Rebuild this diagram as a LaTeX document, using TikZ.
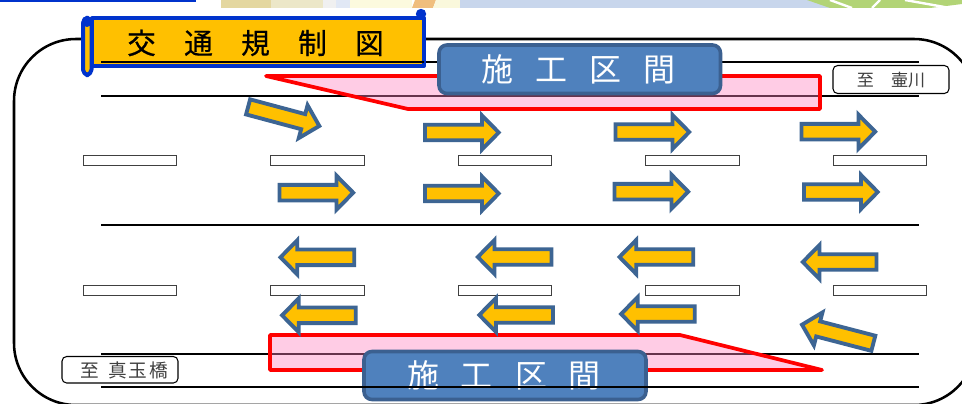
\documentclass[tikz,border=0pt]{standalone}
\usepackage{fontspec}
\setmainfont{Noto Sans CJK JP}
\newlength{\pxu}\setlength{\pxu}{0.75pt}
\definecolor{arrowfill}{HTML}{FFC000}
\definecolor{arrowedge}{HTML}{3D6593}
\definecolor{bannerfill}{HTML}{4F81BD}
\definecolor{banneredge}{HTML}{3B6090}
\definecolor{scrollblue}{HTML}{0033CC}
\definecolor{zonered}{HTML}{FF0000}
\definecolor{zonepink}{HTML}{FF80C0}
\tikzset{
  x=0.75pt,y=-0.75pt,
  roadline/.style={line width=1.5pt,black},
  lanedash/.style={draw=black!75,line width=0.75pt,fill=white},
  zonefill/.style={draw=none,fill=zonepink,fill opacity=0.4},
  zoneedge/.style={draw=zonered,line width=2.8pt,line join=round},
  flowarrow/.style={draw=arrowedge,fill=arrowfill,line width=2.9pt,miter limit=10},
  banner/.style={draw=banneredge,fill=bannerfill,line width=2.7pt,rounded corners=6pt},
  bannertext/.style={text=white,font=\fontsize{24}{24}\selectfont,inner sep=0pt,anchor=center},
  titletext/.style={text=black,font=\fontsize{21.5}{22}\selectfont\addfontfeature{FakeBold=0.5},inner sep=0pt,anchor=center},
  signbox/.style={draw=black,line width=0.8pt,fill=white,rounded corners=3.5pt,inner sep=0pt},
  signtext/.style={text=black!75,inner sep=0pt,anchor=center},
  scrolledge/.style={draw=scrollblue,line width=3pt,line join=round},
}
% tip x, tip y, canvas angle
\newcommand{\flowarw}[3]{%
  \begin{scope}[shift={(#1,#2)},rotate=#3]
    \draw[flowarrow] (-2.8,0) -- (-19.5,-17) -- (-19.5,-7.8) -- (-76.5,-7.8) -- (-76.5,7.8) -- (-19.5,7.8) -- (-19.5,17) -- cycle;
  \end{scope}}
\begin{document}
\begin{tikzpicture}
\useasboundingbox (0,0) rectangle (962,403);
\clip (0,0) rectangle (962,403);
\fill[white] (0,0) rectangle (962,403);
% map remnant along the top
\fill[scrollblue] (0,0) rectangle (196,2.2);
\fill[color={rgb,255:red,228;green,215;blue,160}] (221,0) rectangle (271,8);
\fill[color={rgb,255:red,236;green,231;blue,200}] (271,0) rectangle (323,8);
\fill[color={rgb,255:red,240;green,240;blue,240}] (323,0) rectangle (336,8);
\fill[color={rgb,255:red,225;green,232;blue,245}] (336,0) rectangle (350,8);
\fill[color={rgb,255:red,252;green,250;blue,222}] (350,0) rectangle (412,8);
\fill[color={rgb,255:red,240;green,190;blue,125}] (412,8) -- (415,0) -- (436,0) -- (433,8) -- cycle;
\fill[color={rgb,255:red,250;green,248;blue,220}] (433,8) -- (436,0) -- (462,0) -- (460,8) -- cycle;
\fill[color={rgb,255:red,200;green,214;blue,236}] (460,0) rectangle (830,8);
\fill[color={rgb,255:red,178;green,212;blue,118}] (807,0) -- (962,0) -- (962,4) -- (930,8) -- (830,8) -- cycle;
\draw[white,line width=1.8pt] (830,0) -- (852,8);
\draw[white,line width=1.8pt] (880,0) -- (872,8);
\draw[white,line width=1.8pt] (905,0) -- (950,8);
% outer frame
\draw[black,line width=1.9pt,rounded corners=46.5pt] (14,39) rectangle (976,405);
% road edges
\coordinate (r1a) at (101,62.5); \coordinate (r1b) at (919,62.5);
\coordinate (r2a) at (101,96);   \coordinate (r2b) at (919,96);
\coordinate (r3a) at (101,225);  \coordinate (r3b) at (919,225);
\coordinate (r4a) at (101,354);  \coordinate (r4b) at (919,354);
\coordinate (r5a) at (101,387);  \coordinate (r5b) at (919,387);
\draw[roadline] (r2a) -- (r2b);
\draw[roadline] (r3a) -- (r3b);
\draw[roadline] (r4a) -- (r4b);
% lane dashes
\foreach \lx in {83,270.5,458,645.5,833}{
  \draw[lanedash] (\lx,155) rectangle ++(93.5,10);
  \draw[lanedash] (\lx,285) rectangle ++(93.5,10);
}
% work zones
\path[zonefill] (266,76) -- (820,76) -- (820,109) -- (408,109) -- cycle;
\draw[zoneedge] (266,76) -- (820,76) -- (820,109) -- (408,109) -- cycle;
\path[zonefill] (270,335) -- (680,335) -- (822,370) -- (270,370) -- cycle;
\draw[zoneedge] (270,335) -- (680,335) -- (822,370) -- (270,370) -- cycle;
% upper road line and title scroll
\draw[roadline] (r1a) -- (r1b);
\draw[scrolledge,fill=arrowfill] (92,18.5) -- (424,18.5) -- (424,66) -- (92,66) -- cycle;
\fill[scrollblue] (421,14) circle (5.2);
\draw[scrolledge,fill=arrowfill,rounded corners=4pt] (83,18) rectangle (91.5,75);
\fill[scrollblue] (87,21.5) circle (5.5);
\draw[roadline] (101,62.5) -- (424,62.5);
\node[titletext] (title) at (255.5,43) {\makebox[57\pxu]{交}\makebox[57\pxu]{通}\makebox[57\pxu]{規}\makebox[57\pxu]{制}\makebox[57\pxu]{図}};
% banners
\draw[banner] (439,45) rectangle (720.5,93.5);
\node[bannertext] (upperzone) at (578.5,69) {\makebox[54\pxu]{施}\makebox[54\pxu]{工}\makebox[54\pxu]{区}\makebox[54\pxu]{間}};
\draw[banner] (364,351.5) rectangle (646,399.5);
\node[bannertext] (lowerzone) at (504,375) {\makebox[54\pxu]{施}\makebox[54\pxu]{工}\makebox[54\pxu]{区}\makebox[54\pxu]{間}};
\draw[roadline] (r5a) -- (r5b);
% direction signs
\draw[signbox] (833,65.5) rectangle (949,93.5);
\node[signtext,font=\fontsize{12.8}{13}\selectfont] (signeast) at (891,80) {至　壷川};
\draw[signbox] (62,356.5) rectangle (178,383);
\node[signtext,font=\fontsize{14}{14}\selectfont] (signwest) at (120,370.5) {\makebox[37\pxu]{至}\makebox[20\pxu]{真}\makebox[20.5\pxu]{玉}\makebox[20.5\pxu]{橋}};
% upper traffic arrows
\flowarw{322}{126.7}{-15}
\flowarw{501.5}{132.5}{0}
\flowarw{692}{132}{0}
\flowarw{878}{131.7}{0}
\flowarw{356}{192.7}{0}
\flowarw{501.5}{193.5}{0}
\flowarw{691}{191.7}{0}
\flowarw{880.5}{192}{0}
% lower traffic arrows
\flowarw{277.7}{257.3}{180}
\flowarw{475}{257}{180}
\flowarw{616.7}{257}{180}
\flowarw{800}{262}{180}
\flowarw{279.3}{315.3}{180}
\flowarw{476.5}{315}{180}
\flowarw{618.3}{314}{180}
\flowarw{799.3}{324}{165.4}
\end{tikzpicture}
\end{document}
